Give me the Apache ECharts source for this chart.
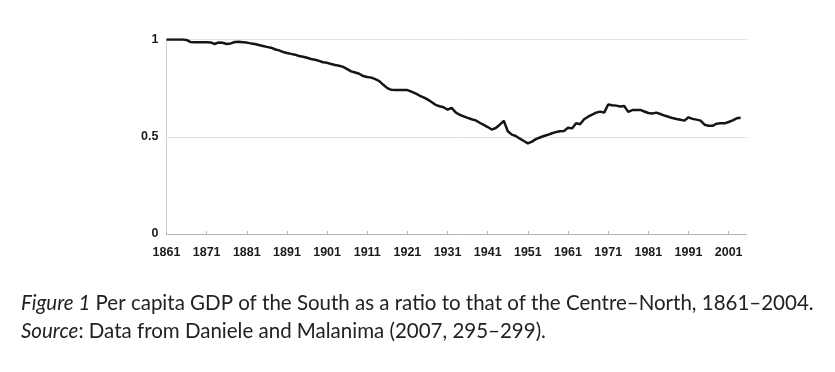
<!DOCTYPE html>
<html>
<head>
<meta charset="utf-8">
<script src="https://cdn.jsdelivr.net/npm/echarts@6/dist/echarts.min.js"></script>
<style>
html,body{margin:0;padding:0;background:#fff;}
#chart{width:835px;height:372px;}
</style>
</head>
<body>
<div id="chart"></div>
<script>
// Years 1861..2004
const startYear = 1861;
const ratio = [
  1.000, 1.000, 1.000, 1.000, 1.000, 0.998, 0.987, 0.986, 0.986, 0.986, // 1861-1870
  0.986, 0.985, 0.977, 0.985, 0.983, 0.977, 0.980, 0.987, 0.988, 0.986, // 1871-1880
  0.984, 0.980, 0.977, 0.972, 0.967, 0.962, 0.958, 0.950, 0.944, 0.936, // 1881-1890
  0.931, 0.926, 0.922, 0.915, 0.911, 0.906, 0.900, 0.896, 0.890, 0.883, // 1891-1900
  0.880, 0.874, 0.869, 0.865, 0.859, 0.848, 0.836, 0.830, 0.824, 0.812, // 1901-1910
  0.807, 0.804, 0.796, 0.786, 0.767, 0.750, 0.741, 0.740, 0.740, 0.740, // 1911-1920
  0.740, 0.732, 0.723, 0.712, 0.702, 0.692, 0.679, 0.664, 0.657, 0.652, // 1921-1930
  0.639, 0.649, 0.625, 0.613, 0.605, 0.597, 0.590, 0.584, 0.572, 0.561, // 1931-1940
  0.550, 0.537, 0.545, 0.562, 0.582, 0.528, 0.511, 0.504, 0.490, 0.478, // 1941-1950
  0.466, 0.475, 0.488, 0.496, 0.504, 0.510, 0.518, 0.524, 0.528, 0.530, // 1951-1960
  0.546, 0.543, 0.570, 0.564, 0.590, 0.603, 0.614, 0.624, 0.629, 0.624, // 1961-1970
  0.666, 0.662, 0.660, 0.656, 0.658, 0.628, 0.637, 0.638, 0.638, 0.630, // 1971-1980
  0.622, 0.620, 0.624, 0.617, 0.609, 0.603, 0.596, 0.591, 0.587, 0.583, // 1981-1990
  0.600, 0.592, 0.588, 0.583, 0.562, 0.557, 0.556, 0.567, 0.569, 0.569, // 1991-2000
  0.576, 0.584, 0.595, 0.598                                            // 2001-2004
];
const years = ratio.map((_, i) => startYear + i);
const xTickYears = [1861, 1871, 1881, 1891, 1901, 1911, 1921, 1931, 1941, 1951, 1961, 1971, 1981, 1991, 2001];
const yTicks = [0, 0.5, 1];
const captionLine1 = 'Per capita GDP of the South as a ratio to that of the Centre\u2013North, 1861\u20132004.';
const captionLine2 = ': Data from Daniele and Malanima (2007, 295\u2013299).';

const chart = echarts.init(document.getElementById('chart'), null, {renderer: 'canvas'});
const labelFont = {fontFamily: 'Liberation Sans', fontWeight: 'bold', fontSize: 12.5, color: '#1a1a1a'};
chart.setOption({
  animation: false,
  backgroundColor: '#fff',
  grid: {left: 166.5, right: 88.3, top: 39.5, bottom: 138, containLabel: false},
  xAxis: {
    type: 'value',
    min: 1861,
    max: 2005.5,
    splitLine: {show: false},
    axisLine: {show: true, lineStyle: {color: '#b5b5b5', width: 1}},
    axisTick: {show: true, inside: true, length: 3, customValues: xTickYears, lineStyle: {color: '#b5b5b5'}},
    axisLabel: Object.assign({show: true, margin: 12, customValues: xTickYears, formatter: v => String(v)}, labelFont)
  },
  yAxis: {
    type: 'value',
    min: 0,
    max: 1,
    interval: 0.5,
    axisLine: {show: true, lineStyle: {color: '#d0d0d0', width: 1}},
    axisTick: {show: false},
    splitLine: {show: true, lineStyle: {color: '#e2e2e2', width: 1}},
    axisLabel: Object.assign({margin: 8, customValues: yTicks, formatter: v => String(v)}, labelFont)
  },
  series: [{
    type: 'line',
    data: years.map((y, i) => [y, ratio[i]]),
    showSymbol: false,
    symbol: 'none',
    lineStyle: {color: '#151515', width: 2.5},
    z: 5
  }],
  graphic: [
    {
      type: 'text', x: 21, y: 303,
      style: {
        text: '{i|Figure 1} ' + captionLine1,
        fill: '#222',
        font: '20.5px Lato',
        verticalAlign: 'middle',
        rich: {i: {fontStyle: 'italic', fontFamily: 'Lato', fontSize: 20.5, fill: '#222'}}
      }
    },
    {
      type: 'text', x: 21, y: 331,
      style: {
        text: '{i|Source}' + captionLine2,
        fill: '#222',
        font: '20.5px Lato',
        verticalAlign: 'middle',
        rich: {i: {fontStyle: 'italic', fontFamily: 'Lato', fontSize: 20.5, fill: '#222'}}
      }
    }
  ]
});
</script>
</body>
</html>
